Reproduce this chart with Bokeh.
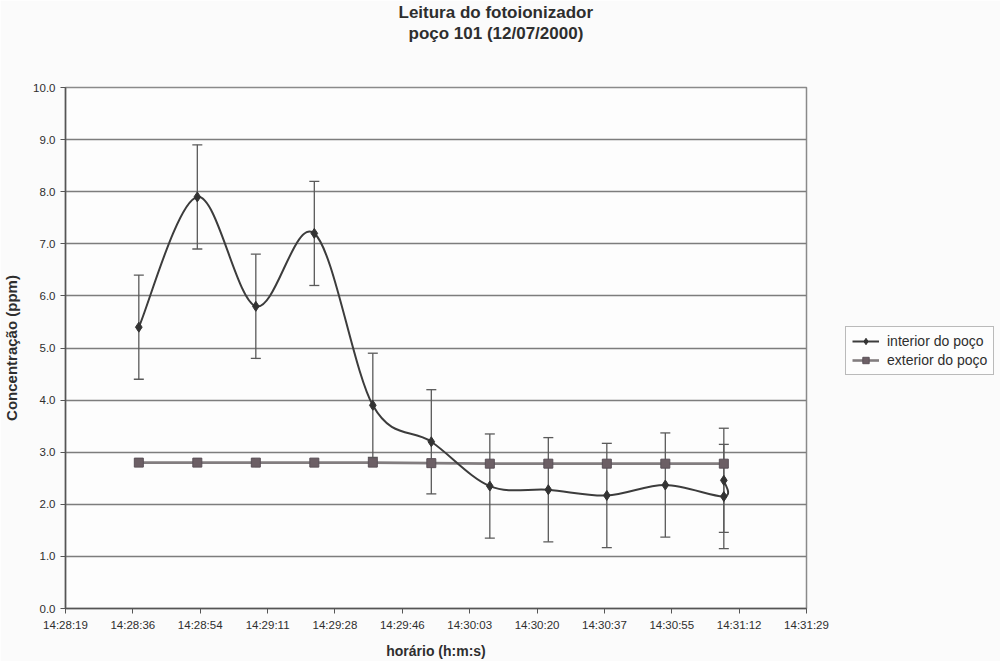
from bokeh.plotting import figure
from bokeh.models import (Range1d, FixedTicker, CustomJSTickFormatter, NumeralTickFormatter,
                          Whisker, ColumnDataSource, Legend, LegendItem, Title, TeeHead)
from bokeh.embed import file_html
from bokeh.resources import INLINE

# ---- data ----
horario_interior = ["14:28:38", "14:28:53", "14:29:08", "14:29:23", "14:29:38", "14:29:53",
                    "14:30:08", "14:30:23", "14:30:38", "14:30:53", "14:31:08", "14:31:08"]
interior = [5.4, 7.9, 5.8, 7.2, 3.9, 3.2, 2.35, 2.28, 2.17, 2.37, 2.15, 2.46]
erro_interior = [1.0, 1.0, 1.0, 1.0, 1.0, 1.0, 1.0, 1.0, 1.0, 1.0, 1.0, 1.0]

horario_exterior = ["14:28:38", "14:28:53", "14:29:08", "14:29:23", "14:29:38", "14:29:53",
                    "14:30:08", "14:30:23", "14:30:38", "14:30:53", "14:31:08"]
exterior = [2.8, 2.8, 2.8, 2.8, 2.8, 2.79, 2.78, 2.78, 2.78, 2.78, 2.78]

x_tick_labels = ["14:28:19", "14:28:36", "14:28:54", "14:29:11", "14:29:28", "14:29:46",
                 "14:30:03", "14:30:20", "14:30:37", "14:30:55", "14:31:12", "14:31:29"]
y_ticks = [0, 1, 2, 3, 4, 5, 6, 7, 8, 9, 10]


def secs(s):
    h, m, sec = s.split(":")
    return int(h) * 3600 + int(m) * 60 + float(sec)


xi = [secs(t) for t in horario_interior]
xe = [secs(t) for t in horario_exterior]

x_start = secs(x_tick_labels[0]) + 0.2
x_end = secs(x_tick_labels[-1]) + 0.2
n = len(x_tick_labels)
tick_pos = [x_start + k * (x_end - x_start) / (n - 1) for k in range(n)]

TXT = "#2e2e2e"
FONT = "Liberation Sans"

p = figure(frame_width=741, frame_height=521,
           min_border_left=59, min_border_right=184, min_border_top=86, min_border_bottom=47,
           x_range=Range1d(x_start, x_end), y_range=Range1d(0, 10),
           output_backend="svg", toolbar_location=None,
           background_fill_color="#fdfdfd", border_fill_color="#fbfbfb")

# titles: p.title is the outermost line; added titles stack outward from the frame
p.title.text = "Leitura do fotoionizador"
p.title.align = "left"
p.title.offset = 333
p.title.text_font = FONT
p.title.text_font_size = "17px"
p.title.text_font_style = "bold"
p.title.text_color = TXT
p.title.standoff = 0
# blank spacer between the title block and the plot frame (nearest the frame)
spacer = Title(text=" ", text_font=FONT, text_font_size="17px", standoff=24)
p.add_layout(spacer, "above")
t2 = Title(text="poço 101 (12/07/2000)", align="left", offset=343, text_font=FONT,
           text_font_size="17px", text_font_style="bold", text_color=TXT, standoff=0)
p.add_layout(t2, "above")

# grid & outline
p.xgrid.visible = False
p.ygrid.ticker = FixedTicker(ticks=y_ticks)
p.ygrid.grid_line_color = "#7d7d7d"
p.ygrid.grid_line_width = 1.4
p.outline_line_color = "#8a8a8a"
p.outline_line_width = 1.5

# axes
p.yaxis.ticker = FixedTicker(ticks=y_ticks)
p.yaxis.formatter = NumeralTickFormatter(format="0.0")
p.xaxis.ticker = FixedTicker(ticks=tick_pos)
p.xaxis.formatter = CustomJSTickFormatter(
    args=dict(tpos=tick_pos, tlab=x_tick_labels),
    code="let b=0; for (let i=0;i<tpos.length;i++){ if (Math.abs(tpos[i]-tick) < Math.abs(tpos[b]-tick)) b=i; } return tlab[b];")
for ax in (p.xaxis[0], p.yaxis[0]):
    ax.axis_line_color = "#555555"
    ax.axis_line_width = 1.5
    ax.major_tick_line_color = "#555555"
    ax.major_tick_out = 5
    ax.major_tick_in = 0
    ax.minor_tick_line_color = None
    ax.major_label_text_font = FONT
    ax.major_label_text_font_size = "11.5px"
    ax.major_label_text_color = TXT
    ax.major_label_standoff = 5
    ax.axis_label_text_font = FONT
    ax.axis_label_text_font_style = "bold"
    ax.axis_label_text_color = TXT
p.xaxis.axis_label = "horário (h:m:s)"
p.yaxis.axis_label = "Concentração (ppm)"
p.xaxis.axis_label_text_font_size = "14px"
p.yaxis.axis_label_text_font_size = "15px"
p.xaxis.axis_label_standoff = 9
p.yaxis.axis_label_standoff = 10

# ---- error bars ----
src_i = ColumnDataSource(dict(x=xi, y=interior,
                              up=[v + e for v, e in zip(interior, erro_interior)],
                              lo=[v - e for v, e in zip(interior, erro_interior)]))
wh = Whisker(source=src_i, base="x", upper="up", lower="lo", dimension="height",
             line_color="#5a5a5a", line_width=1.3,
             upper_head=TeeHead(size=10, line_color="#5a5a5a", line_width=1.3),
             lower_head=TeeHead(size=10, line_color="#5a5a5a", line_width=1.3))
p.add_layout(wh)

# ---- exterior series ----
src_e = ColumnDataSource(dict(x=xe, y=exterior))
le = p.line("x", "y", source=src_e, line_color="#827d7f", line_width=2.6)
se = p.scatter("x", "y", source=src_e, marker="square", size=9,
               fill_color="#6c5f65", line_color="#5a5058")

# ---- interior series: smoothed curve (Catmull-Rom Bezier) through the points ----
m = len(xi)
x0, y0, x1, y1, cx0, cy0, cx1, cy1 = [], [], [], [], [], [], [], []
for i in range(m - 1):
    pa = (xi[max(i - 1, 0)], interior[max(i - 1, 0)])
    pb = (xi[i], interior[i])
    pc = (xi[i + 1], interior[i + 1])
    pd = (xi[min(i + 2, m - 1)], interior[min(i + 2, m - 1)])
    x0.append(pb[0]); y0.append(pb[1]); x1.append(pc[0]); y1.append(pc[1])
    cx0.append(pb[0] + (pc[0] - pa[0]) / 6.0); cy0.append(pb[1] + (pc[1] - pa[1]) / 6.0)
    cx1.append(pc[0] - (pd[0] - pb[0]) / 6.0); cy1.append(pc[1] - (pd[1] - pb[1]) / 6.0)
li = p.bezier(x0=x0, y0=y0, x1=x1, y1=y1, cx0=cx0, cy0=cy0, cx1=cx1, cy1=cy1,
              line_color="#3c3c3c", line_width=2)
si = p.scatter("x", "y", source=src_i, marker="diamond", size=10,
               fill_color="#333333", line_color="#333333")

# ---- legend (in the right border panel) ----
legend = Legend(items=[LegendItem(label="interior do poço", renderers=[li, si]),
                       LegendItem(label="exterior do poço", renderers=[le, se])],
                location=(39, 233), orientation="vertical",
                label_text_font=FONT, label_text_font_size="14px", label_text_color=TXT,
                border_line_color="#777777", border_line_width=1.2,
                background_fill_color="#fdfdfd", background_fill_alpha=1,
                glyph_width=27, glyph_height=16, label_height=16, label_standoff=8,
                padding=6, spacing=3, margin=0)
p.add_layout(legend, "right")

open("out.html", "w").write(file_html(p, INLINE))
